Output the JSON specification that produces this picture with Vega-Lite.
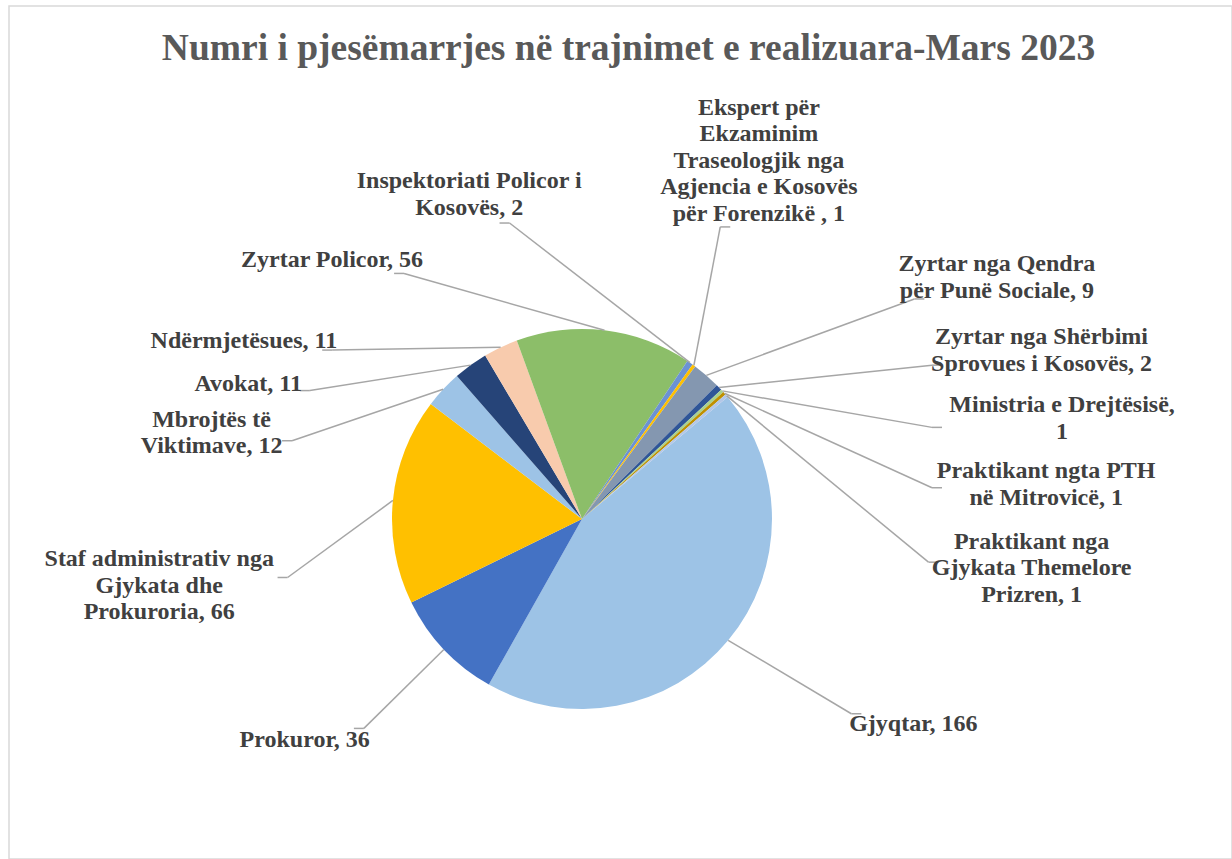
{
  "$schema": "https://vega.github.io/schema/vega-lite/v6.json",
  "width": 1232,
  "height": 859,
  "autosize": {"type": "fit", "contains": "padding"},
  "padding": {"left": 9, "top": 6, "right": 0, "bottom": 0},
  "background": "white",
  "config": {"view": {"stroke": "#D9D9D9", "strokeWidth": 1.5}},
  "title": {
    "text": "Numri i pjesëmarrjes në trajnimet e realizuara-Mars 2023",
    "font": "Liberation Serif",
    "fontSize": 37.5,
    "fontWeight": "bold",
    "color": "#595959",
    "anchor": "middle",
    "offset": -61,
    "dx": 8
  },
  "data": {
    "values": [
      {"idx": 0, "category": "Gjyqtar", "value": 166, "label": "Gjyqtar, 166"},
      {"idx": 1, "category": "Prokuror", "value": 36, "label": "Prokuror, 36"},
      {"idx": 2, "category": "Staf administrativ nga Gjykata dhe Prokuroria", "value": 66, "label": "Staf administrativ nga\nGjykata dhe\nProkuroria, 66"},
      {"idx": 3, "category": "Mbrojtës të Viktimave", "value": 12, "label": "Mbrojtës të\nViktimave, 12"},
      {"idx": 4, "category": "Avokat", "value": 11, "label": "Avokat, 11"},
      {"idx": 5, "category": "Ndërmjetësues", "value": 11, "label": "Ndërmjetësues, 11"},
      {"idx": 6, "category": "Zyrtar Policor", "value": 56, "label": "Zyrtar  Policor, 56"},
      {"idx": 7, "category": "Inspektoriati Policor i Kosovës", "value": 2, "label": "Inspektoriati Policor i\nKosovës, 2"},
      {"idx": 8, "category": "Ekspert për Ekzaminim Traseologjik nga Agjencia e Kosovës për Forenzikë", "value": 1, "label": "Ekspert për\nEkzaminim\nTraseologjik nga\nAgjencia e Kosovës\npër Forenzikë , 1"},
      {"idx": 9, "category": "Zyrtar nga Qendra për Punë Sociale", "value": 9, "label": "Zyrtar  nga Qendra\npër Punë Sociale, 9"},
      {"idx": 10, "category": "Zyrtar nga Shërbimi Sprovues i Kosovës", "value": 2, "label": "Zyrtar  nga Shërbimi\nSprovues i Kosovës, 2"},
      {"idx": 11, "category": "Ministria e Drejtësisë", "value": 1, "label": "Ministria e Drejtësisë,\n1"},
      {"idx": 12, "category": "Praktikant ngta PTH në Mitrovicë", "value": 1, "label": "Praktikant ngta PTH\nnë Mitrovicë, 1"},
      {"idx": 13, "category": "Praktikant nga Gjykata Themelore Prizren", "value": 1, "label": "Praktikant nga\nGjykata Themelore\nPrizren, 1"}
    ]
  },
  "transform": [
    {"joinaggregate": [{"op": "sum", "field": "value", "as": "total"}]},
    {"window": [{"op": "sum", "field": "value", "as": "cum"}], "sort": [{"field": "idx"}], "frame": [null, 0]},
    {"calculate": "split(datum.label, '\\n')", "as": "lines"},
    {"calculate": "length(datum.lines)", "as": "nl"},
    {"calculate": "max(length(datum.lines[0]), length(datum.lines[1] || ''), length(datum.lines[2] || ''), length(datum.lines[3] || ''), length(datum.lines[4] || ''))", "as": "maxc"},
    {"calculate": "5.3 * datum.maxc", "as": "hw"},
    {"calculate": "13.25 * datum.nl", "as": "hh"},
    {"calculate": "50 + 360 * (datum.cum - datum.value / 2) / datum.total", "as": "mid"},
    {"window": [{"op": "sum", "field": "nl", "as": "cumnl"}], "sort": [{"field": "idx"}], "frame": [null, 0]},
    {"calculate": "datum.cumnl - datum.nl / 2", "as": "q"},
    {"calculate": "datum.mid - 8.5 * datum.q", "as": "c1"},
    {"window": [{"op": "max", "field": "c1", "as": "cmax1"}], "sort": [{"field": "idx"}], "frame": [null, 0]},
    {"window": [{"op": "min", "field": "c1", "as": "cmin1"}], "sort": [{"field": "idx"}], "frame": [0, null]},
    {"calculate": "((datum.cmax1 + datum.cmin1) / 2 + 8.5 * datum.q) * PI / 180", "as": "l1"},
    {"calculate": "min(2 * datum.hh / max(abs(sin(datum.l1)), 0.01), 2 * datum.hw / max(abs(cos(datum.l1)), 0.01)) + 10", "as": "s"},
    {"window": [{"op": "sum", "field": "s", "as": "cums"}], "sort": [{"field": "idx"}], "frame": [null, 0]},
    {"calculate": "(datum.cums - datum.s / 2) * 0.179", "as": "p"},
    {"calculate": "datum.mid - datum.p", "as": "c2"},
    {"window": [{"op": "max", "field": "c2", "as": "cmax2"}], "sort": [{"field": "idx"}], "frame": [null, 0]},
    {"window": [{"op": "min", "field": "c2", "as": "cmin2"}], "sort": [{"field": "idx"}], "frame": [0, null]},
    {"calculate": "((datum.cmax2 + datum.cmin2) / 2 + datum.p) * PI / 180", "as": "lr"},
    {"calculate": "datum.mid * PI / 180", "as": "mr"},
    {"calculate": "190 * sin(datum.mr)", "as": "px"},
    {"calculate": "-190 * cos(datum.mr)", "as": "py"},
    {"calculate": "sin(datum.lr) >= 0 ? min((cos(datum.lr) > 0 ? 480 : 350) * sin(datum.lr), 350) : 300 * sin(datum.lr)", "as": "ax"},
    {"calculate": "-305 * cos(datum.lr)", "as": "ay"},
    {"calculate": "datum.ax + (sin(datum.lr) >= 0 ? 10 : -10)", "as": "tx"},
    {"calculate": "datum.tx + sin(datum.lr) * (datum.hw + 4)", "as": "lx"},
    {"calculate": "datum.ay - cos(datum.lr) * (datum.hh + 3) - (datum.nl - 1) * 13.25", "as": "ly"}
  ],
  "layer": [
    {
      "mark": {"type": "arc", "outerRadius": 190, "stroke": null},
      "encoding": {
        "theta": {"field": "value", "type": "quantitative", "stack": true, "scale": {"range": [0.8727, 7.1559]}},
        "order": {"field": "idx", "type": "quantitative"},
        "color": {
          "field": "category",
          "type": "nominal",
          "legend": null,
          "scale": {
            "domain": ["Gjyqtar", "Prokuror", "Staf administrativ nga Gjykata dhe Prokuroria", "Mbrojtës të Viktimave", "Avokat", "Ndërmjetësues", "Zyrtar Policor", "Inspektoriati Policor i Kosovës", "Ekspert për Ekzaminim Traseologjik nga Agjencia e Kosovës për Forenzikë", "Zyrtar nga Qendra për Punë Sociale", "Zyrtar nga Shërbimi Sprovues i Kosovës", "Ministria e Drejtësisë", "Praktikant ngta PTH në Mitrovicë", "Praktikant nga Gjykata Themelore Prizren"],
            "range": ["#9DC3E6", "#4472C4", "#FFC000", "#9DC3E6", "#264478", "#F8CBAD", "#8CBE69", "#6B92D4", "#FFC000", "#8497B0", "#2F5597", "#A9D18E", "#BF9000", "#B4C7E7"]
          }
        },
        "x": {"datum": 0, "type": "quantitative", "scale": {"domain": [-573, 650]}, "axis": null},
        "y": {"datum": 0, "type": "quantitative", "scale": {"domain": [-513, 340], "reverse": true}, "axis": null}
      }
    },
    {
      "mark": {"type": "rule", "color": "#A6A6A6", "strokeWidth": 1.5},
      "encoding": {
        "x": {"field": "px", "type": "quantitative", "scale": {"domain": [-573, 650]}, "axis": null},
        "y": {"field": "py", "type": "quantitative", "scale": {"domain": [-513, 340], "reverse": true}, "axis": null},
        "x2": {"field": "ax"},
        "y2": {"field": "ay"}
      }
    },
    {
      "mark": {"type": "rule", "color": "#A6A6A6", "strokeWidth": 1.5},
      "encoding": {
        "x": {"field": "ax", "type": "quantitative", "scale": {"domain": [-573, 650]}, "axis": null},
        "y": {"field": "ay", "type": "quantitative", "scale": {"domain": [-513, 340], "reverse": true}, "axis": null},
        "x2": {"field": "tx"},
        "y2": {"field": "ay"}
      }
    },
    {
      "mark": {"type": "text", "align": "center", "baseline": "middle", "lineBreak": "\n", "font": "Liberation Serif", "fontSize": 24, "fontWeight": "bold", "color": "#404040", "lineHeight": 26.5},
      "encoding": {
        "x": {"field": "lx", "type": "quantitative", "scale": {"domain": [-573, 650]}, "axis": null},
        "y": {"field": "ly", "type": "quantitative", "scale": {"domain": [-513, 340], "reverse": true}, "axis": null},
        "text": {"field": "label", "type": "nominal"}
      }
    }
  ]
}
